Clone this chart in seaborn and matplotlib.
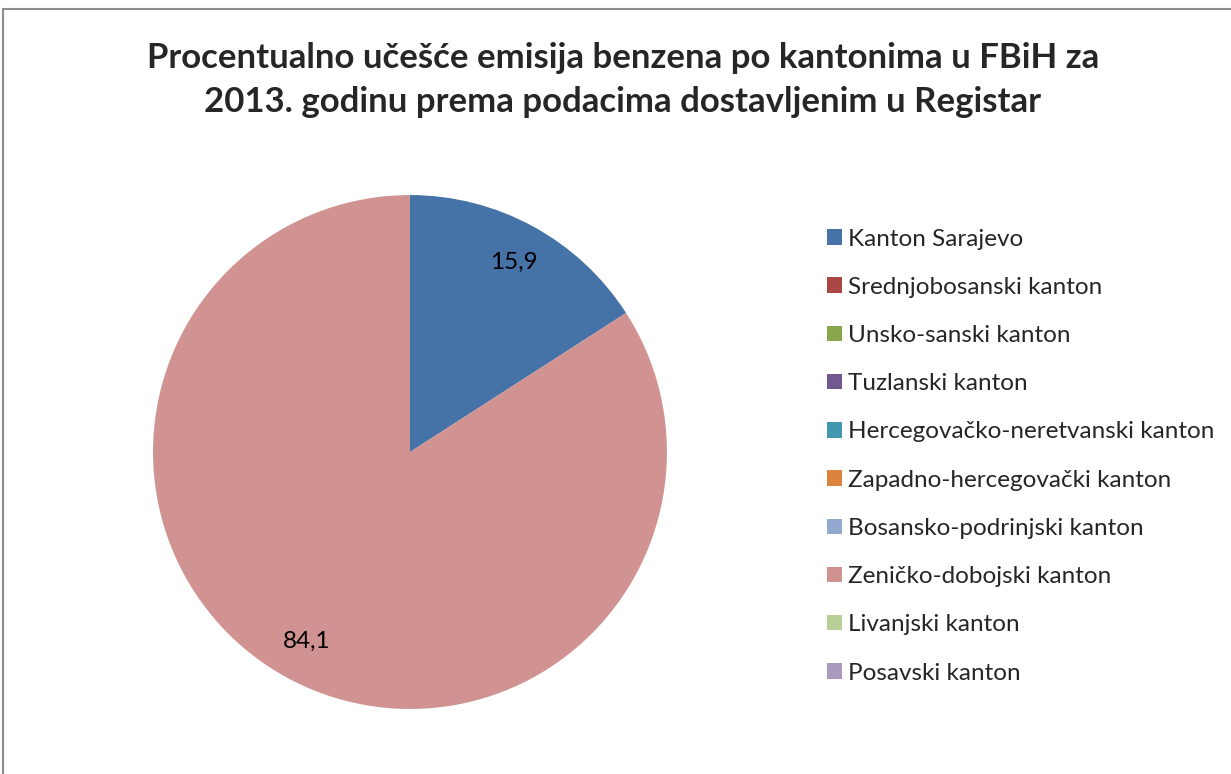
import matplotlib
matplotlib.use("Agg")
import matplotlib.pyplot as plt
import seaborn as sns
from matplotlib.lines import Line2D

sns.set_style("white")
plt.rcParams['font.family'] = ['Lato', 'DejaVu Sans']

cantons = ["Kanton Sarajevo", "Srednjobosanski kanton", "Unsko-sanski kanton",
           "Tuzlanski kanton", "Hercegovačko-neretvanski kanton",
           "Zapadno-hercegovački kanton", "Bosansko-podrinjski kanton",
           "Zeničko-dobojski kanton", "Livanjski kanton", "Posavski kanton"]
shares = [15.9, 0, 0, 0, 0, 0, 0, 84.1, 0, 0]
colors = ["#4572A7", "#AA4643", "#89A54E", "#71588F", "#4198AF",
          "#DB843D", "#93A9CF", "#D19392", "#B9CD96", "#A99BBD"]
title = ("Procentualno učešće emisija benzena po kantonima u FBiH za\n"
         "2013. godinu prema podacima dostavljenim u Registar")


def fmt_pct(p):
    if p < 0.05:
        return ""
    return f"{p:.1f}".replace(".", ",")


fig = plt.figure(figsize=(12.31, 7.74), dpi=100)
ax = fig.add_axes([0.1243, 0.084, 0.4175, 0.664])
wedges, texts, autotexts = ax.pie(shares, colors=colors, startangle=90,
                                  counterclock=False, autopct=fmt_pct,
                                  pctdistance=0.84,
                                  wedgeprops={"linewidth": 0},
                                  textprops={"fontsize": 17.5, "color": "black"})
ax.set_xlim(-1, 1)
ax.set_ylim(-1, 1)
ax.set_aspect("equal")

fig.suptitle(title, x=0.506, y=0.946, fontsize=25, fontweight="bold",
             linespacing=1.48)

fig.legend(wedges, cantons, loc="upper left", bbox_to_anchor=(0.654, 0.733),
           frameon=False, fontsize=17.5, handlelength=0.6, handleheight=0.6,
           handletextpad=0.25, labelspacing=1.12)

# chart frame (only top and left edges visible in the crop)
fig.add_artist(Line2D([3 / 1231, 1], [1 - 9 / 774, 1 - 9 / 774],
                      transform=fig.transFigure, color="#8c8c8c", lw=1.5))
fig.add_artist(Line2D([3 / 1231, 3 / 1231], [0, 1 - 9 / 774],
                      transform=fig.transFigure, color="#8c8c8c", lw=1.5))

fig.savefig("out.png", dpi=100)
